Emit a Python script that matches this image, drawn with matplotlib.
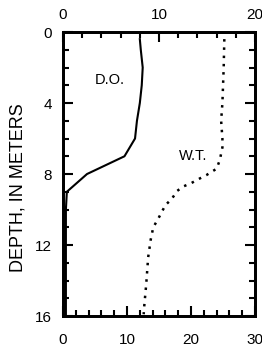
import matplotlib
matplotlib.use("Agg")
import matplotlib.pyplot as plt
from matplotlib.ticker import MultipleLocator

plt.rcParams['font.family'] = ['Liberation Sans', 'DejaVu Sans']

# dissolved oxygen (top axis, 0-20) vs depth
do_depth = [0.4, 1, 2, 3, 4, 5, 6, 7, 8, 9, 10, 12, 14, 16]
do_value = [8.0, 8.1, 8.3, 8.2, 8.0, 7.7, 7.5, 6.4, 2.5, 0.4, 0.3, 0.3, 0.3, 0.3]

# water temperature (bottom axis, 0-30) vs depth
wt_depth = [0.4, 2, 4, 5, 6, 6.5, 7.2, 7.7, 8.06, 8.3, 8.5, 8.7, 8.96,
            9.4, 9.75, 10.5, 11, 11.7, 12.7, 14.2, 15.4, 15.9]
wt_value = [25.2, 25.1, 24.9, 24.7, 24.9, 24.9, 24.5, 24.0, 22.4, 21.1, 20.1,
            18.8, 17.8, 17.0, 16.0, 14.9, 14.1, 13.7, 13.3, 13.0, 12.7, 12.6]

depth_ticks = [0, 4, 8, 12, 16]

fig = plt.figure(figsize=(2.62, 3.5), dpi=100)
ax = fig.add_axes([0.2405, 0.0971, 0.733, 0.8114])

ax.plot(wt_value, wt_depth, color='black', lw=1.8, linestyle=(0, (1, 2.3)))
ax.set_xlim(0, 30)
ax.set_ylim(16, 0)
ax.xaxis.set_major_locator(MultipleLocator(10))
ax.xaxis.set_minor_locator(MultipleLocator(2))
ax.set_yticks(depth_ticks)
ax.yaxis.set_minor_locator(MultipleLocator(1))
ax.tick_params(axis='x', which='both', direction='in', bottom=True, top=False,
               labelsize=11, pad=12)
ax.tick_params(axis='y', which='both', direction='in', left=True, right=True,
               labelright=False, labelsize=11, pad=8)
ax.tick_params(which='major', length=7, width=1.5)
ax.tick_params(which='minor', length=4, width=1.5)
ax.set_ylabel('DEPTH, IN METERS', fontsize=13)
ax.yaxis.set_label_coords(-0.19, 0.452)

ax2 = ax.twiny()
ax2.plot(do_value, do_depth, color='black', lw=1.5)
ax2.set_xlim(0, 20)
ax2.xaxis.set_major_locator(MultipleLocator(10))
ax2.xaxis.set_minor_locator(MultipleLocator(2))
ax2.tick_params(axis='x', which='both', direction='in', top=True, bottom=False,
                labelsize=11, pad=7)
ax2.tick_params(which='major', length=7, width=1.5)
ax2.tick_params(which='minor', length=4, width=1.5)

for a in (ax, ax2):
    for s in a.spines.values():
        s.set_linewidth(2)

ax2.text(4.9, 2.7, 'D.O.', fontsize=10.5, ha='center', va='center')
ax.text(20.3, 7.0, 'W.T.', fontsize=10.5, ha='center', va='center')

fig.savefig('out.png', dpi=100)
